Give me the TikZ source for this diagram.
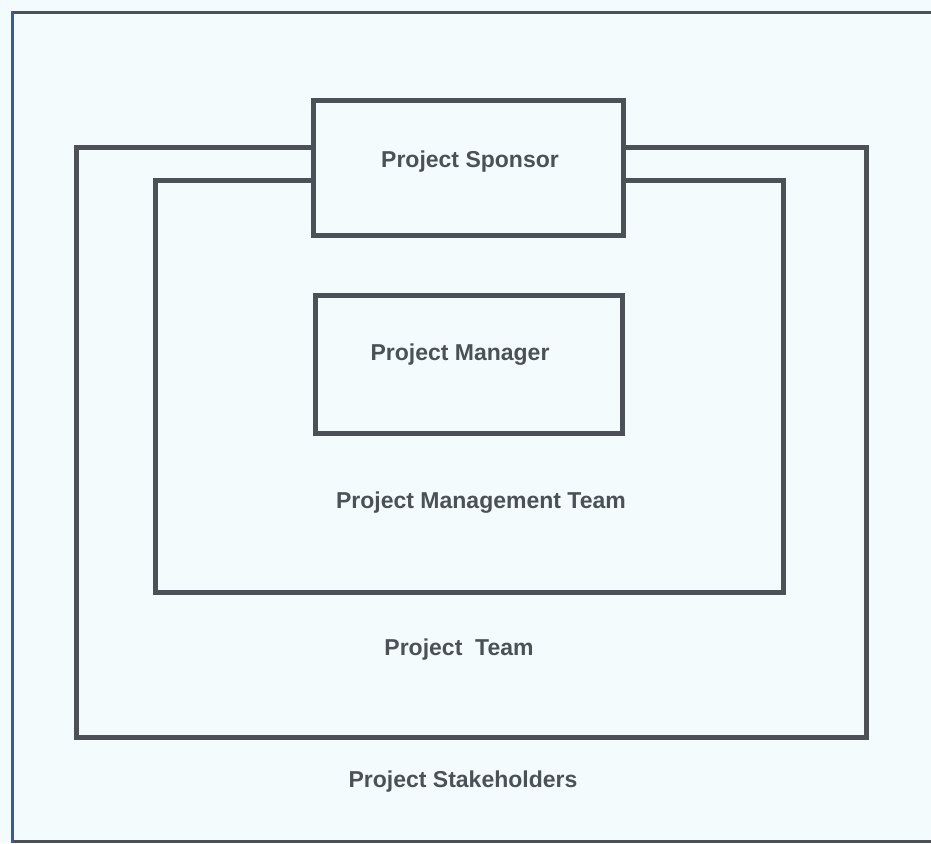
\documentclass[tikz,border=0pt]{standalone}
\usepackage{fontspec}
\setmainfont{Liberation Sans}
\usetikzlibrary{positioning}

\definecolor{paper}{HTML}{F4FBFD}
\definecolor{ink}{HTML}{4B5157}
\definecolor{edge}{HTML}{3E5A8E}

\begin{document}
\begin{tikzpicture}[
    x=1pt, y=-1pt,
    box/.style={
        draw=ink,
        line width=5pt,
        fill=paper,
        inner sep=0pt
    },
    ring/.style={
        draw=ink,
        line width=5pt
    },
    caption/.style={
        text=ink,
        font=\fontsize{23}{27}\selectfont\bfseries
    }
]
    % Page and outer frame
    \fill[paper] (0,0) rectangle (931,843);
    \useasboundingbox (0,0) rectangle (931,843);
    \draw[ink, line width=3pt] (940,13) -- (12,13);
    \draw[ink, line width=3pt] (12,841) -- (940,841);
    \draw[edge, line width=3pt] (12,11.5) -- (12,842.5);

    % Nested team boundaries
    \draw[ring] (76,147) rectangle (866,737);
    \draw[ring] (155,180) rectangle (783,592);

    % Roles
    \node[box, minimum width=310pt, minimum height=135pt] (sponsor) at (468,167.5) {};
    \node[caption] (sponsorlbl) at (470,162) {Project Sponsor};
    \node[box, minimum width=307pt, minimum height=138pt] (manager) at (468.5,364) {};
    \node[caption] (managerlbl) at (460,355) {Project Manager};

    % Group labels
    \node[caption] (pmt) at (481,503) {Project Management Team};
    \node[caption] (team) at (459,650) {Project~~Team};
    \node[caption] (stake) at (463,782) {Project Stakeholders};
\end{tikzpicture}
\end{document}
